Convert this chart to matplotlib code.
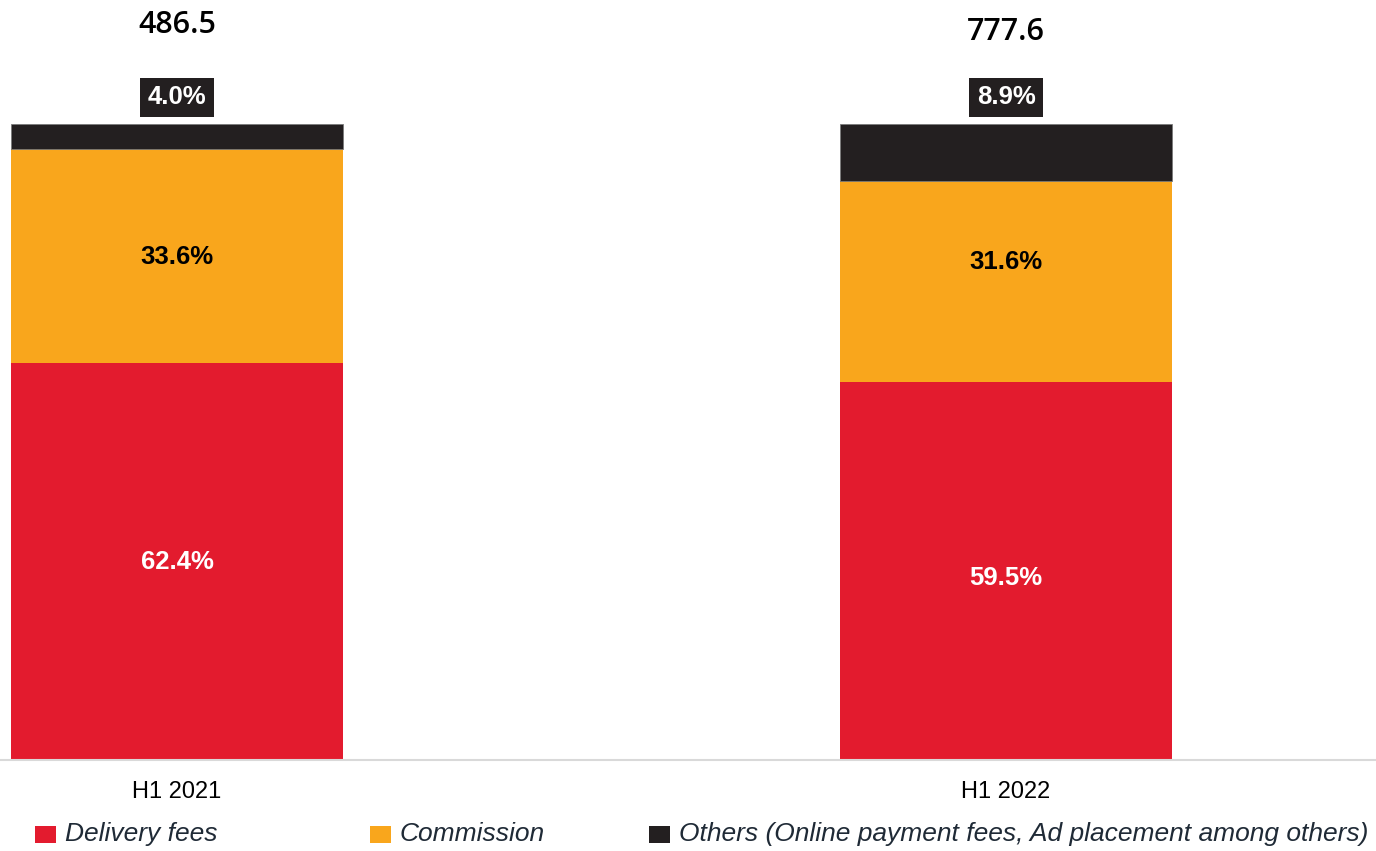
import matplotlib
matplotlib.use("Agg")
import matplotlib.pyplot as plt
from matplotlib.patches import Rectangle
import numpy as np

categories = ["H1 2021", "H1 2022"]
totals = [486.5, 777.6]
delivery = [62.4, 59.5]
commission = [33.6, 31.6]
others = [4.0, 8.9]
series_names = ["Delivery fees", "Commission",
                "Others (Online payment fees, Ad placement among others)"]

RED = "#E31B2E"
ORANGE = "#F9A61C"
BLACK = "#231F20"

# label layout (data units on the 0-100 % axis)
delivery_label_y = [31.1, 28.6]
commission_label_y = [79.1, 78.3]
others_label_y = 104.2
total_label_y = [115.5, 114.4]

fig = plt.figure(figsize=(13.76, 8.51), dpi=100)
ax = fig.add_axes([0, 0.1069, 1, 0.8931])
x = np.arange(len(categories))
w = 0.4
d = np.array(delivery)
c = np.array(commission)
o = np.array(others)
ax.bar(x, d, w, color=RED, linewidth=0)
ax.bar(x, c, w, bottom=d, color=ORANGE, linewidth=0)
ax.bar(x, o, w, bottom=d + c, color=BLACK, edgecolor="#7a7a7a", linewidth=0.6)

ax.set_xlim(-0.2135, 1.4463)
ax.set_ylim(0, 119.5)
for s in ["top", "right", "left"]:
    ax.spines[s].set_visible(False)
ax.spines["bottom"].set_color("#D9D9D9")
ax.spines["bottom"].set_linewidth(1.5)
ax.set_yticks([])
ax.set_xticks(x)
ax.set_xticklabels(categories, family=["Liberation Sans", "DejaVu Sans"],
                   fontsize=17, color="black")
ax.tick_params(axis="x", length=0, pad=15)

pct_font = ["Liberation Sans", "DejaVu Sans"]
for i in range(len(categories)):
    ax.text(x[i], delivery_label_y[i], f"{d[i]:.1f}%", ha="center", va="center", color="white",
            fontsize=18.5, fontweight="bold", family=pct_font)
    ax.text(x[i], commission_label_y[i], f"{c[i]:.1f}%", ha="center", va="center", color="black",
            fontsize=18.5, fontweight="bold", family=pct_font)
    ax.text(x[i], others_label_y, f"{o[i]:.1f}%", ha="center", va="center", color="white",
            fontsize=18.5, fontweight="bold", family=pct_font,
            bbox=dict(boxstyle="square,pad=0.3", facecolor=BLACK, edgecolor="none"))
    ax.text(x[i], total_label_y[i], f"{totals[i]:.1f}", ha="center", va="center", color="black",
            fontsize=22, fontweight="semibold", family=["Open Sans", "DejaVu Sans"])

# legend
leg_font = ["Liberation Sans", "DejaVu Sans"]
colors = [RED, ORANGE, BLACK]
sq_x = [35, 370, 649]
fw, fh = 1376, 851
for name, col, px in zip(series_names, colors, sq_x):
    fig.patches.append(Rectangle((px / fw, (851 - 843) / fh), 21 / fw, 17 / fh,
                                 transform=fig.transFigure, facecolor=col, edgecolor="none"))
    fig.text((px + 30) / fw, (851 - 834) / fh, name, ha="left", va="center",
             fontsize=19, style="italic", color="#1f2a36", family=leg_font)

fig.savefig("out.png", dpi=100)
